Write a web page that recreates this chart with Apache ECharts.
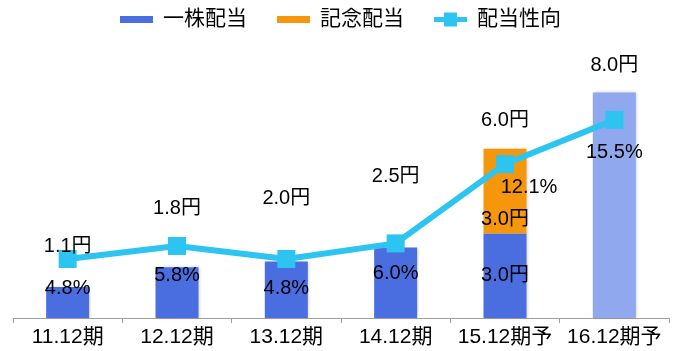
<!DOCTYPE html>
<html>
<head>
<meta charset="utf-8">
<script src="https://cdn.jsdelivr.net/npm/echarts@6/dist/echarts.min.js"></script>
<style>
  html, body { margin: 0; padding: 0; background: #fff; }
  #chart { width: 681px; height: 351px; }
</style>
</head>
<body>
<div id="chart"></div>
<script>
// 期別の配当データ
const periods = ['11.12期', '12.12期', '13.12期', '14.12期', '15.12期予', '16.12期予'];
const regularDividend = [1.1, 1.8, 2.0, 2.5, 3.0, 8.0];      // 一株配当（円）
const commemorativeDividend = [0, 0, 0, 0, 3.0, 0];          // 記念配当（円）
const payoutRatio = [4.8, 5.8, 4.8, 6.0, 12.1, 15.5];        // 配当性向（%）

// 合計配当（ラベル用）
const totalDividend = regularDividend.map((v, i) => v + commemorativeDividend[i]);

// ラベルの配置調整（折れ線と重ならないように）
const totalLabelGap = [30, 49, 53, 61, 18, 17];
const ratioLabelOffset = [[0, 0], [0, 0], [0, 0], [0, 0], [24, -7], [0, 3]];

const FONT = '"Liberation Sans", "Noto Sans CJK JP", sans-serif';
const BLUE = '#4a6ee0';
const BLUE_FORECAST = '#8fa8ee';
const ORANGE = '#f5960c';
const CYAN = '#2ec4f2';
const TEXT = '#000';
const LABEL_SIZE = 20;

// 凡例アイコン（33×14 の枠内に描く）
const RECT_ICON = 'path://M0,0L33,0L33,0.01L0,0.01ZM0,3.5L33,3.5L33,10.5L0,10.5ZM0,13.99L33,13.99L33,14L0,14Z';
const LINE_ICON = 'path://M0,4.5L10,4.5L10,0L23,0L23,4.5L33,4.5L33,9.5L23,9.5L23,14L10,14L10,9.5L0,9.5Z';

const chart = echarts.init(document.getElementById('chart'), null, { renderer: 'canvas' });

const barShadow = {
  shadowBlur: 3,
  shadowColor: 'rgba(0,0,0,0.18)',
  shadowOffsetX: 1,
  shadowOffsetY: 0
};

function valueLabel(extra) {
  return Object.assign({
    show: true,
    fontSize: LABEL_SIZE,
    color: TEXT,
    opacity: 1,
    fontFamily: FONT
  }, extra);
}

const option = {
  animation: false,
  backgroundColor: '#fff',
  textStyle: { fontFamily: FONT },
  legend: {
    top: 4,
    left: 'center',
    itemWidth: 33,
    itemHeight: 14,
    itemGap: 30,
    textStyle: { fontSize: 21, color: TEXT, fontFamily: FONT, padding: [0, 0, 0, 5] },
    data: [
      { name: '一株配当', icon: RECT_ICON },
      { name: '記念配当', icon: RECT_ICON },
      { name: '配当性向', icon: LINE_ICON }
    ]
  },
  grid: { left: 13, right: 12, top: 36, bottom: 33, containLabel: false },
  xAxis: {
    type: 'category',
    data: periods,
    boundaryGap: true,
    axisLine: { lineStyle: { color: '#a0a0a0', width: 1 } },
    axisTick: { show: true, length: 5, lineStyle: { color: '#a0a0a0' } },
    axisLabel: { fontSize: 21, color: TEXT, margin: 9, fontFamily: FONT, interval: 0 }
  },
  yAxis: [
    { type: 'value', min: 0, max: 10, show: false },
    { type: 'value', min: 0.26, max: 21.95, show: false }
  ],
  series: [
    {
      name: '一株配当',
      type: 'bar',
      stack: 'dividend',
      barWidth: 43,
      itemStyle: Object.assign({ color: BLUE }, barShadow),
      data: regularDividend.map((v, i) => {
        const item = { value: v };
        if (i === periods.length - 1) item.itemStyle = { color: BLUE_FORECAST };
        if (commemorativeDividend[i] > 0) {
          item.label = valueLabel({
            position: 'inside',
            formatter: p => p.value.toFixed(1) + '円'
          });
        }
        return item;
      }),
      z: 2
    },
    {
      name: '記念配当',
      type: 'bar',
      stack: 'dividend',
      barWidth: 43,
      itemStyle: Object.assign({ color: ORANGE }, barShadow),
      data: commemorativeDividend.map(v => {
        if (v <= 0) return '-';
        return {
          value: v,
          label: valueLabel({
            position: 'insideBottom',
            distance: 4,
            formatter: p => p.value.toFixed(1) + '円'
          })
        };
      }),
      z: 2
    },
    {
      // 合計配当ラベル
      name: '合計',
      type: 'scatter',
      symbolSize: 0,
      silent: true,
      itemStyle: { opacity: 1 },
      data: totalDividend.map((v, i) => ({
        value: v,
        label: valueLabel({
          position: 'top',
          distance: totalLabelGap[i],
          formatter: p => p.value.toFixed(1) + '円'
        })
      })),
      z: 5
    },
    {
      name: '配当性向',
      type: 'line',
      yAxisIndex: 1,
      symbol: 'rect',
      symbolSize: 18,
      lineStyle: { color: CYAN, width: 6 },
      itemStyle: { color: CYAN },
      data: payoutRatio.map((v, i) => ({
        value: v,
        label: valueLabel({
          position: 'bottom',
          distance: 11,
          offset: ratioLabelOffset[i],
          formatter: p => p.value.toFixed(1) + '%'
        })
      })),
      z: 4
    }
  ]
};

chart.setOption(option);
</script>
</body>
</html>
